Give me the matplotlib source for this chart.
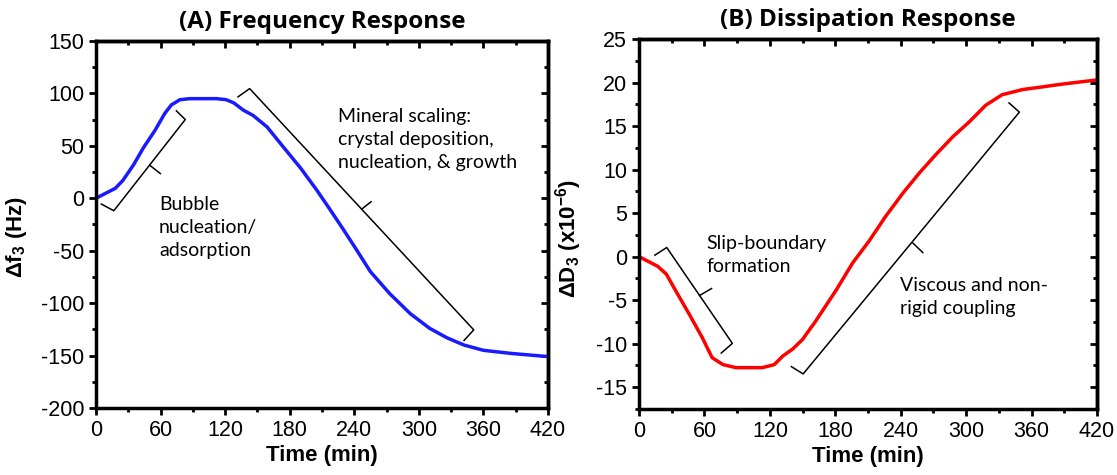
import numpy as np
import matplotlib
matplotlib.use("Agg")
import matplotlib.pyplot as plt
from matplotlib.ticker import MultipleLocator

plt.rcParams['font.family'] = ['Liberation Sans', 'DejaVu Sans']
plt.rcParams['axes.unicode_minus'] = False
plt.rcParams['mathtext.default'] = 'regular'

# frequency shift (Hz) vs time (min)
t_freq = [0, 18, 25, 35, 44, 55, 64, 70, 78, 87, 112, 121, 128, 137, 146,
          159, 174, 190, 205, 217, 230, 242, 255, 273, 292, 310, 326, 342,
          360, 386, 420]
df3 = [0, 9.5, 17, 32, 48, 65, 81, 89, 94, 95, 95, 94, 91, 84, 79,
       68, 49, 29, 8, -10, -30, -49, -70, -91, -110, -124, -133, -140,
       -145, -148, -151]

# dissipation shift (x1e-6) vs time (min)
t_diss = [0, 17, 25, 34, 46, 58, 67, 77, 89, 113, 124, 132, 141, 150, 162,
          181, 196, 211, 226, 242, 257, 272, 288, 303, 318, 333, 352, 370,
          387, 420]
dD3 = [0, -1.1, -2.0, -4.0, -6.6, -9.3, -11.6, -12.4, -12.75, -12.75, -12.4,
       -11.4, -10.6, -9.5, -7.4, -3.8, -0.7, 1.8, 4.6, 7.3, 9.6, 11.7, 13.8,
       15.5, 17.4, 18.6, 19.2, 19.5, 19.8, 20.3]

# brace outlines: hook start, corner, corner, hook end, and the middle spur
brace_bubble = ([5, 16.6, 83, 74.7], [-5.5, -11.9, 75.1, 83.4], [49.8, 59.8], [31.6, 23.6])
brace_mineral = ([132, 142.8, 351, 342], [96.7, 104.6, -125.5, -135.6], [247, 255.6], [-10.3, -3.3])
brace_slip = ([14.5, 25.4, 85.6, 75.4], [0.17, 1.05, -9.96, -11.07], [55.5, 66.5], [-4.46, -3.66])
brace_viscous = ([139.7, 150.5, 348.8, 339.3], [-12.63, -13.47, 16.6, 17.66], [251, 260.2], [1.58, 0.47])

note_font = ['Lato', 'DejaVu Sans']
title_font = ['Open Sans', 'DejaVu Sans']


def style_axes(ax, ymaj, ymin):
    ax.set_xlim(0, 420)
    ax.xaxis.set_major_locator(MultipleLocator(60))
    ax.xaxis.set_minor_locator(MultipleLocator(30))
    ax.yaxis.set_major_locator(MultipleLocator(ymaj))
    ax.yaxis.set_minor_locator(MultipleLocator(ymin))
    for s in ax.spines.values():
        s.set_linewidth(2.5)
    ax.tick_params(which='major', direction='out', length=5, width=2, labelsize=15.5)
    ax.tick_params(which='minor', direction='out', length=3, width=2)
    # mirrored ticks pointing inward on top and right
    top = ax.secondary_xaxis('top')
    top.xaxis.set_major_locator(MultipleLocator(60))
    top.xaxis.set_minor_locator(MultipleLocator(30))
    top.tick_params(which='major', direction='in', length=5, width=2, labeltop=False)
    top.tick_params(which='minor', direction='in', length=3, width=2)
    top.spines['top'].set_linewidth(2.5)
    right = ax.secondary_yaxis('right')
    right.yaxis.set_major_locator(MultipleLocator(ymaj))
    right.yaxis.set_minor_locator(MultipleLocator(ymin))
    right.tick_params(which='major', direction='in', length=5, width=2, labelright=False)
    right.tick_params(which='minor', direction='in', length=3, width=2)
    right.spines['right'].set_linewidth(2.5)
    ax.set_xlabel('Time (min)', fontsize=16, fontweight='bold', labelpad=3)


def brace(ax, b):
    xs, ys, sx, sy = b
    ax.plot(xs, ys, color='black', lw=1.1)
    ax.plot(sx, sy, color='black', lw=1.1)


fig = plt.figure(figsize=(11.17, 4.75), dpi=100)
ax1 = fig.add_axes([0.0859, 0.1411, 0.4047, 0.7726])
ax2 = fig.add_axes([0.5721, 0.1389, 0.4100, 0.7790])

# (A) frequency
ax1.plot(t_freq, df3, color='#1a1aff', lw=2.5)
ax1.set_ylim(-200, 150)
style_axes(ax1, 50, 25)
ax1.set_ylabel(r'$\Delta$f$_{3}$ (Hz)', fontsize=16, fontweight='bold')
ax1.yaxis.set_label_coords(-0.148, 0.466)
ax1.set_title('(A) Frequency Response', fontsize=17.5, fontweight='bold', pad=9,
              family=title_font)
brace(ax1, brace_bubble)
brace(ax1, brace_mineral)
ax1.text(58.5, -28, 'Bubble\nnucleation/\nadsorption', fontsize=14, va='center',
         ha='left', linespacing=1.45, family=note_font)
ax1.text(225, 56, 'Mineral scaling:\ncrystal deposition,\nnucleation, & growth',
         fontsize=14, va='center', ha='left', linespacing=1.45, family=note_font)

# (B) dissipation
ax2.plot(t_diss, dD3, color='#ff0000', lw=2.5)
ax2.set_ylim(-17.5, 25)
style_axes(ax2, 5, 2.5)
ax2.set_ylabel(r'$\Delta$D$_{3}$ (x10$^{-6}$)', fontsize=16, fontweight='bold')
ax2.yaxis.set_label_coords(-0.12, 0.46)
ax2.set_title('(B) Dissipation Response', fontsize=17.5, fontweight='bold', pad=9,
              family=title_font)
brace(ax2, brace_slip)
brace(ax2, brace_viscous)
ax2.text(62, 0.2, 'Slip-boundary\nformation', fontsize=14, va='center',
         ha='left', linespacing=1.45, family=note_font)
ax2.text(239, -4.6, 'Viscous and non-\nrigid coupling', fontsize=14, va='center',
         ha='left', linespacing=1.45, family=note_font)

fig.savefig('out.png', dpi=100)
